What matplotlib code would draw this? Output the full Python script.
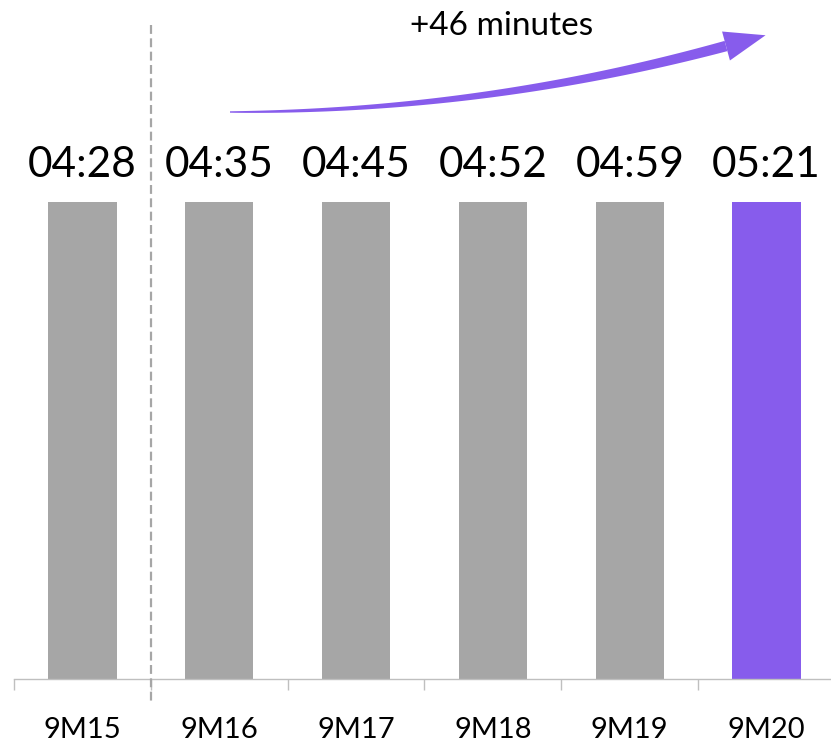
import numpy as np
import matplotlib.pyplot as plt
from matplotlib.patches import Polygon
from matplotlib.transforms import blended_transform_factory

# Average duration per period (h:mm), drawn as equal-height columns
periods = ["9M15", "9M16", "9M17", "9M18", "9M19", "9M20"]
durations = ["04:28", "04:35", "04:45", "04:52", "04:59", "05:21"]
bar_heights = [1, 1, 1, 1, 1, 1]
bar_colors = ["#A6A6A6", "#A6A6A6", "#A6A6A6", "#A6A6A6", "#A6A6A6", "#875CEC"]
change_label = "+46 minutes"

W, H = 831, 746
fig = plt.figure(figsize=(W / 100, H / 100), dpi=100)
plt.rcParams["font.family"] = ["Lato", "DejaVu Sans"]

# Axes spanning the plot area (pixel layout converted to figure fractions)
ax_left, ax_right = 14, 835
ax_bottom, ax_top = 679, 0
ax = fig.add_axes([ax_left / W, 1 - ax_bottom / H,
                   (ax_right - ax_left) / W, (ax_bottom - ax_top) / H])

x = np.arange(len(periods))
ax.bar(x, bar_heights, width=0.5, color=bar_colors, zorder=2)
ax.set_xlim(-0.5, len(periods) - 0.5)
ax.set_ylim(0, 1 / ((679 - 202) / 679))

for i, (h, lab) in enumerate(zip(bar_heights, durations)):
    ax.annotate(lab, xy=(i, h), xytext=(0, 18), textcoords="offset points",
                ha="center", va="baseline", fontsize=30.5, color="black")

for s in ["top", "right", "left"]:
    ax.spines[s].set_visible(False)
ax.spines["bottom"].set_color("#BFBFBF")
ax.spines["bottom"].set_linewidth(1.0)
ax.set_yticks([])
ax.set_xticks(x)
ax.set_xticklabels(periods, fontsize=21)
ax.set_xticks(np.arange(-0.5, len(periods)), minor=True)
ax.tick_params(axis="x", which="major", length=0, pad=27)
ax.tick_params(axis="x", which="minor", length=8, width=1.0, color="#BFBFBF")

# Dashed separator between the first and second period
trans = blended_transform_factory(ax.transData, ax.transAxes)
ax.plot([0.5, 0.5], [(679 - 25) / 679, (679 - 705) / 679], transform=trans,
        color="#A6A6A6", lw=1.6, ls=(0, (4, 2)), clip_on=False, zorder=3)


# Tapered curved arrow drawn in figure pixel space
def to_fig(pts):
    pts = np.asarray(pts, dtype=float)
    return np.column_stack([pts[:, 0] / W, 1 - pts[:, 1] / H])


P0 = np.array([230.0, 112.0])
P1 = np.array([483.0, 112.0])
P2 = np.array([726.0, 46.0])
t = np.linspace(0, 1, 120)[:, None]
curve = (1 - t) ** 2 * P0 + 2 * (1 - t) * t * P1 + t ** 2 * P2
tang = 2 * (1 - t) * (P1 - P0) + 2 * t * (P2 - P1)
tang /= np.linalg.norm(tang, axis=1, keepdims=True)
norm = np.column_stack([-tang[:, 1], tang[:, 0]])
half = 0.7 + 4.6 * t[:, 0] ** 0.85
upper = curve + norm * half[:, None]
lower = curve - norm * half[:, None]
body = np.vstack([upper, lower[::-1]])
purple = "#875CEC"
fig.patches.append(Polygon(to_fig(body), closed=True, transform=fig.transFigure,
                           facecolor=purple, edgecolor="none"))
d = tang[-1]
n = norm[-1]
head = [P2 + n * 15, P2 + d * 41, P2 - n * 15]
fig.patches.append(Polygon(to_fig(head), closed=True, transform=fig.transFigure,
                           facecolor=purple, edgecolor="none"))

fig.text(502 / W, 1 - 35 / H, change_label, ha="center", va="baseline",
         fontsize=24, color="black")

fig.savefig("out.png", dpi=100)
